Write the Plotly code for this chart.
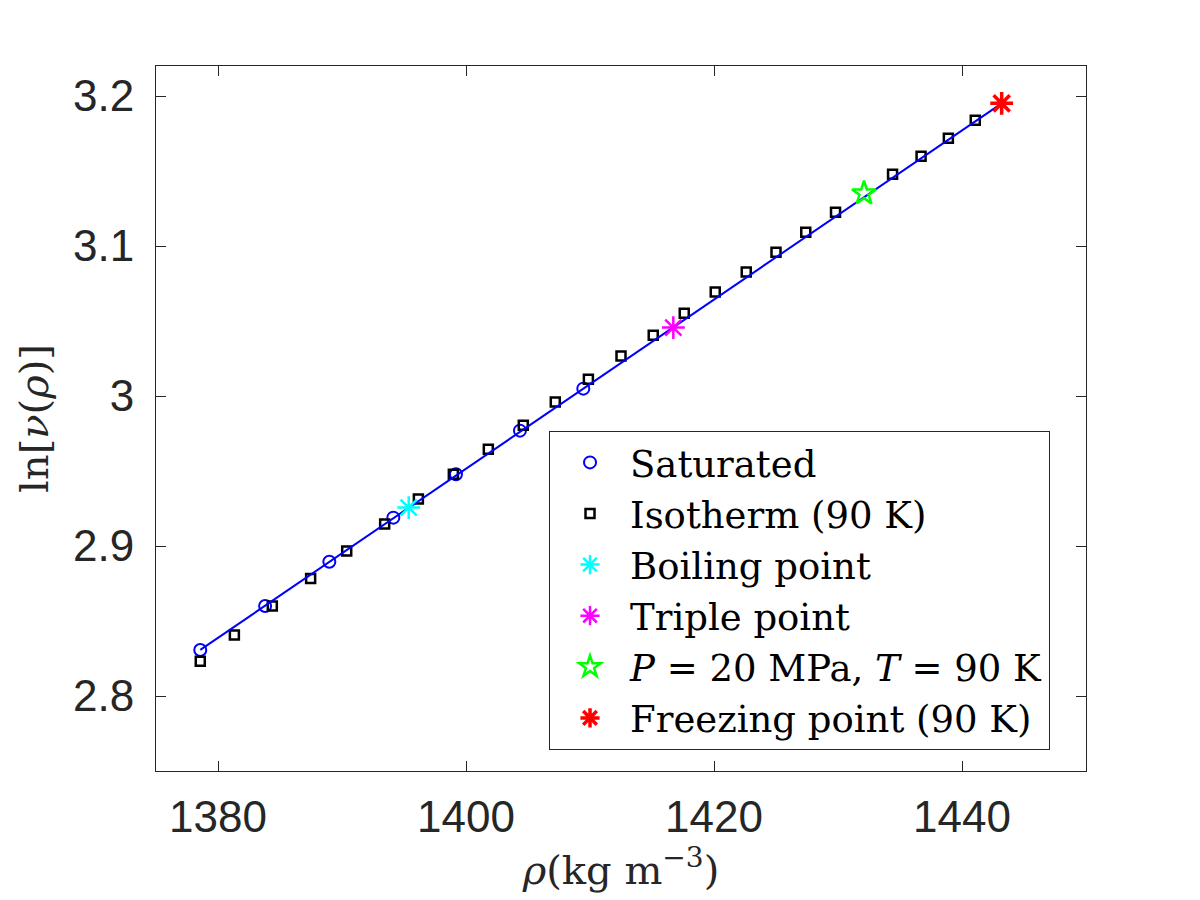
import plotly.graph_objects as go

# Saturated liquid data
sat_rho = [1378.57, 1383.80, 1388.98, 1394.14, 1399.19, 1404.35, 1409.46]
sat_lnnu = [2.8307, 2.8600, 2.8895, 2.9189, 2.9478, 2.9769, 3.0049]

# Isotherm (90 K)
iso_rho = [1378.57, 1381.32, 1384.38, 1387.47, 1390.38, 1393.44, 1396.16, 1398.98,
           1401.80, 1404.62, 1407.20, 1409.87, 1412.50, 1415.10, 1417.60, 1420.10,
           1422.60, 1425.00, 1427.40, 1429.80, 1434.40, 1436.70, 1438.90, 1441.07]
iso_lnnu = [2.8231, 2.8407, 2.8600, 2.8784, 2.8967, 2.9147, 2.9313, 2.9478,
            2.9645, 2.9805, 2.9960, 3.0111, 3.0267, 3.0405, 3.0551, 3.0693,
            3.0827, 3.0958, 3.1091, 3.1225, 3.1478, 3.1598, 3.1718, 3.1838]

# Special points
boil_rho, boil_lnnu = [1395.38], [2.9256]
triple_rho, triple_lnnu = [1416.72], [3.0456]
p20_rho, p20_lnnu = [1432.10], [3.1351]
freeze_rho, freeze_lnnu = [1443.20], [3.1951]

# Fit line
fit_rho = [1378.57, 1443.20]
fit_lnnu = [2.8307, 3.1951]

x_ticks = [1380, 1400, 1420, 1440]
y_ticks = [2.8, 2.9, 3.0, 3.1, 3.2]
y_ticktext = ["2.8", "2.9", "3", "3.1", "3.2"]

SERIF = "DejaVu Serif, Liberation Serif, serif"

fig = go.Figure()

fig.add_trace(go.Scatter(x=sat_rho, y=sat_lnnu, mode="markers", name="Saturated",
                         marker=dict(symbol="circle-open", size=12, color="#0000ff",
                                     line=dict(color="#0000ff", width=2))))
fig.add_trace(go.Scatter(x=iso_rho, y=iso_lnnu, mode="markers", name="Isotherm (90 K)",
                         marker=dict(symbol="square-open", size=9, color="#000000",
                                     line=dict(color="#000000", width=2.5))))
fig.add_trace(go.Scatter(x=fit_rho, y=fit_lnnu, mode="lines", showlegend=False,
                         line=dict(color="#0000ff", width=2)))
fig.add_trace(go.Scatter(x=boil_rho, y=boil_lnnu, mode="markers", name="Boiling point",
                         marker=dict(symbol="asterisk-open", size=19, color="#00ffff",
                                     line=dict(color="#00ffff", width=2.5))))
fig.add_trace(go.Scatter(x=triple_rho, y=triple_lnnu, mode="markers", name="Triple point",
                         marker=dict(symbol="asterisk-open", size=19, color="#ff00ff",
                                     line=dict(color="#ff00ff", width=2.5))))
fig.add_trace(go.Scatter(x=p20_rho, y=p20_lnnu, mode="markers",
                         name="<i>P</i> = 20 MPa, <i>T</i> = 90 K",
                         marker=dict(symbol="star-open", size=18, color="#00ff00",
                                     line=dict(color="#00ff00", width=2.5))))
fig.add_trace(go.Scatter(x=freeze_rho, y=freeze_lnnu, mode="markers",
                         name="Freezing point (90 K)",
                         marker=dict(symbol="asterisk-open", size=19, color="#ff0000",
                                     line=dict(color="#ff0000", width=3.5))))

axis_common = dict(showgrid=False, zeroline=False, showline=True, linecolor="#262626",
                   linewidth=1, mirror="ticks", ticks="inside", ticklen=10,
                   tickcolor="#262626", tickwidth=1,
                   tickfont=dict(family="Liberation Sans, Arial", size=44, color="#262626"))

fig.update_layout(
    width=1200, height=900,
    paper_bgcolor="white", plot_bgcolor="white",
    margin=dict(l=156, r=114, t=66, b=129, pad=0),
    xaxis=dict(range=[1375, 1450], tickvals=x_ticks, ticklabelstandoff=7,
               title=dict(text="<i>ρ</i>(kg m<sup>−3</sup>)", standoff=2,
                          font=dict(family=SERIF, size=40, color="#262626")),
               **axis_common),
    yaxis=dict(range=[2.75, 3.22], tickvals=y_ticks, ticktext=y_ticktext, ticklabelstandoff=12,
               title=dict(text="ln[<i>ν</i>(<i>ρ</i>)]", standoff=12,
                          font=dict(family=SERIF, size=40, color="#262626")),
               **axis_common),
    legend=dict(x=0.4226, y=0.03, xanchor="left", yanchor="bottom",
                bgcolor="white", bordercolor="#262626", borderwidth=1,
                font=dict(family=SERIF, size=37, color="#000000"),
                itemwidth=70, tracegroupgap=0),
    showlegend=True,
)

fig.write_html("out.html")
